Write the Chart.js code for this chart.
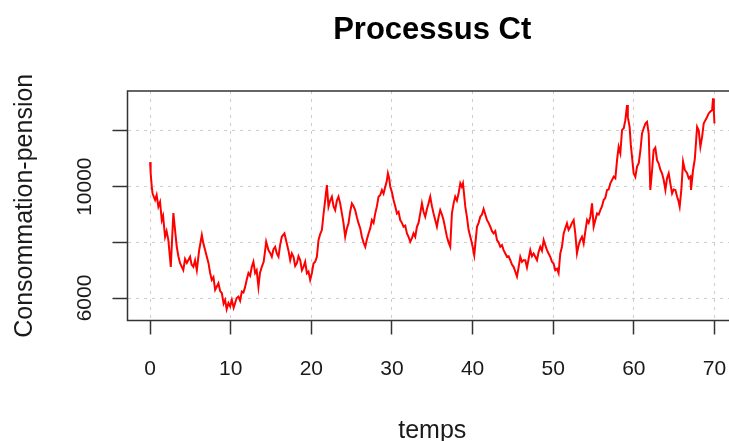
<!DOCTYPE html>
<html lang="fr">
<head>
    <meta charset="UTF-8">
    <title>Processus Ct</title>
    <script src="https://cdn.jsdelivr.net/npm/chart.js@4.4.3/dist/chart.umd.min.js"></script>
    <style>
        html, body { margin: 0; padding: 0; background: #fff; overflow: hidden; }
        /* the plot frame runs a little past the right edge of the window */
        #wrap { width: 729px; height: 441px; overflow: hidden; }
        canvas { display: block; }
    </style>
</head>
<body>
<div id="wrap"><canvas id="ct-chart" width="737" height="441"></canvas></div>
<script>
// time axis (temps)
const temps = [
    0, 0.07, 0.21, 0.31, 0.62, 0.81, 1.03, 1.24, 1.45, 1.61,
    1.86, 2.05, 2.27, 2.57, 2.73, 2.89, 3.10, 3.31, 3.51, 3.71,
    4.12, 4.34, 4.56, 4.96, 5.15, 5.37, 5.58, 5.80, 6.08, 6.42,
    6.58, 6.83, 7.24, 7.45, 7.65, 7.86, 8.07, 8.48, 8.69, 8.90,
    9.12, 9.31, 9.50, 9.72, 9.93, 10.14, 10.37, 10.55, 10.74, 10.96,
    11.17, 11.38, 11.58, 11.79, 11.98, 12.20, 12.41, 12.62, 12.82, 13.03,
    13.22, 13.44, 13.63, 13.86, 14.09, 14.27, 14.40, 14.68, 14.89, 15.10,
    15.30, 15.51, 15.72, 15.93, 16.13, 16.34, 16.67, 16.96, 17.17, 17.38,
    17.58, 17.79, 18.00, 18.21, 18.41, 18.62, 18.83, 19.03, 19.24, 19.45,
    19.65, 19.86, 20.07, 20.27, 20.48, 20.69, 20.89, 21.10, 21.31, 21.51,
    21.72, 21.93, 22.13, 22.34, 22.55, 22.75, 22.96, 23.17, 23.37, 23.58,
    23.79, 23.99, 24.20, 24.41, 24.61, 24.82, 25.03, 25.24, 25.44, 25.65,
    25.86, 26.07, 26.27, 26.47, 26.69, 26.89, 27.10, 27.31, 27.51, 27.72,
    27.93, 28.14, 28.34, 28.55, 28.76, 28.96, 29.17, 29.36, 29.50, 29.66,
    29.79, 30.00, 30.20, 30.41, 30.62, 30.82, 31.03, 31.24, 31.44, 31.65,
    31.86, 32.06, 32.27, 32.48, 32.68, 32.89, 33.10, 33.30, 33.51, 33.72,
    33.92, 34.13, 34.34, 34.54, 34.75, 34.96, 35.16, 35.37, 35.58, 35.78,
    35.99, 36.20, 36.40, 36.61, 36.82, 37.02, 37.23, 37.44, 37.65, 37.85,
    38.06, 38.27, 38.48, 38.66, 38.81, 39.10, 39.31, 39.51, 39.72, 39.93,
    40.21, 40.55, 40.75, 40.96, 41.17, 41.37, 41.58, 41.79, 41.99, 42.20,
    42.41, 42.61, 42.82, 43.03, 43.23, 43.44, 43.65, 43.85, 44.06, 44.27,
    44.47, 44.68, 44.89, 45.09, 45.30, 45.51, 45.71, 45.92, 46.13, 46.33,
    46.54, 46.75, 46.95, 47.16, 47.37, 47.57, 47.78, 47.99, 48.19, 48.40,
    48.61, 48.82, 49.02, 49.23, 49.43, 49.64, 49.85, 50.05, 50.26, 50.47,
    50.67, 50.88, 51.09, 51.30, 51.50, 51.71, 51.91, 52.13, 52.33, 52.54,
    52.75, 52.95, 53.16, 53.36, 53.57, 53.78, 53.99, 54.20, 54.40, 54.61,
    54.82, 55.02, 55.23, 55.44, 55.65, 55.85, 56.06, 56.26, 56.47, 56.68,
    56.88, 57.09, 57.30, 57.50, 57.71, 57.92, 58.12, 58.33, 58.54, 58.75,
    58.95, 59.16, 59.26, 59.48, 59.63, 59.78, 59.98, 60.19, 60.40, 60.61,
    60.82, 61.02, 61.23, 61.44, 61.64, 61.85, 62.05, 62.24, 62.46, 62.67,
    62.88, 63.08, 63.30, 63.50, 63.71, 63.92, 64.12, 64.33, 64.54, 64.75,
    64.95, 65.16, 65.37, 65.53, 65.69, 65.90, 66.11, 66.33, 66.61, 66.81,
    67.02, 67.10, 67.35, 67.57, 67.85, 68.05, 68.26, 68.47, 68.67, 68.88,
    69.09, 69.29, 69.50, 69.71, 69.83, 69.93, 70.00
];

// Ct values, same order as temps
const consommationPension = [
    10880, 10500, 10000, 9750, 9520, 9700, 9280, 9450, 8800, 8950,
    8200, 8400, 8080, 7120, 8100, 9050, 8440, 7840, 7500, 7260,
    7000, 7400, 7260, 7480, 7200, 7120, 7350, 7000, 7700, 8260,
    8000, 7720, 7260, 6900, 6650, 6750, 6290, 6530, 6250, 6180,
    5800, 5930, 5600, 5820, 5700, 5930, 5650, 5820, 6000, 6050,
    5900, 6230, 6200, 6400, 6650, 6900, 6800, 7120, 7300, 6900,
    7000, 6400, 6900, 7120, 7300, 7700, 8020, 7720, 7620, 7480,
    7750, 7840, 7600, 7480, 7900, 8200, 8320, 7960, 7700, 7360,
    7600, 7480, 7150, 7250, 7500, 7360, 7000, 7120, 7300, 6890,
    6950, 6650, 6900, 7240, 7300, 7480, 8080, 8300, 8440, 9000,
    9520, 10060, 9280, 9500, 9640, 9300, 9160, 9500, 9640, 9400,
    9040, 8700, 8200, 8500, 8680, 9100, 9400, 9300, 9160, 8900,
    8680, 8500, 8200, 8000, 7840, 8100, 8320, 8500, 8800, 8700,
    9040, 9300, 9640, 9700, 9880, 9750, 10000, 10200, 10480, 10300,
    10000, 9800, 9520, 9300, 9040, 9100, 8800, 8700, 8560, 8600,
    8320, 8200, 8020, 8150, 8320, 8200, 8560, 8700, 9040, 9400,
    9100, 8920, 9200, 9400, 9640, 9300, 9040, 8800, 8560, 8900,
    9160, 9000, 8800, 8500, 8200, 8000, 7840, 9040, 9400, 9640,
    9500, 9760, 10120, 10000, 10120, 9280, 8900, 8440, 8200, 7960,
    7540, 8560, 8700, 8920, 9000, 9200, 9000, 8800, 8700, 8560,
    8400, 8320, 8400, 8080, 8000, 7840, 7900, 7720, 7600, 7480,
    7500, 7360, 7200, 7120, 6950, 6770, 7100, 7480, 7300, 7360,
    7360, 7100, 7400, 7720, 7500, 7600, 7480, 7360, 7650, 7840,
    7700, 8080, 7900, 7720, 7600, 7480, 7300, 7240, 7000, 7050,
    6890, 7600, 7840, 8320, 8500, 8680, 8450, 8560, 8700, 8800,
    8300, 7600, 7900, 8080, 8200, 7960, 8400, 8800, 8700, 8920,
    9400, 8560, 8800, 9040, 9000, 9160, 9300, 9520, 9600, 9880,
    9900, 10120, 10240, 10360, 10300, 10950, 11430, 11200, 12030, 12100,
    12390, 12930, 12500, 12150, 11500, 11070, 10480, 10350, 10720, 10840,
    11300, 11910, 12100, 12270, 12330, 11900, 9880, 10500, 11310, 11400,
    10950, 10840, 10600, 10480, 10240, 9880, 10300, 10480, 10100, 9760,
    9900, 9880, 9640, 9500, 9280, 9900, 10900, 10600, 10480, 10300,
    10360, 9880, 10600, 11000, 12150, 12030, 11430, 11790, 12270, 12390,
    12500, 12630, 12700, 12750, 13170, 12700, 12270
];

// axis ticks; only some of the y ticks carry a label
const xTicks = [0, 10, 20, 30, 40, 50, 60, 70];
const yTicks = [6000, 8000, 10000, 12000];
const yLabelled = [6000, 10000];

const FONT = "'Liberation Sans', Arial, Helvetica, sans-serif";
const INK = '#1a1a1a';
const FRAME = '#333333';

// box drawn round the plotting region
const framePlugin = {
    id: 'frame',
    afterDatasetsDraw(chart) {
        const { ctx, chartArea: a } = chart;
        ctx.save();
        ctx.strokeStyle = FRAME;
        ctx.lineWidth = 1.5;
        ctx.strokeRect(a.left, a.top, a.right - a.left, a.bottom - a.top);
        ctx.restore();
    }
};

const gridStyle = (tickLength) => ({
    color: '#cdcdcd',
    lineWidth: 1,
    tickLength: tickLength,
    tickColor: FRAME,
    tickWidth: 1.5,
    tickBorderDash: []
});

// fixed axis sizes, and no extra room reserved for overhanging tick labels
const fixWidth = w => s => { s.width = w; s.paddingTop = 0; s.paddingBottom = 0; };
const fixHeight = h => s => { s.height = h; s.paddingLeft = 0; s.paddingRight = 0; };

new Chart(document.getElementById('ct-chart'), {
    type: 'line',
    data: {
        datasets: [{
            data: temps.map((t, i) => ({ x: t, y: consommationPension[i] })),
            borderColor: '#ff0000',
            borderWidth: 2,
            pointRadius: 0,
            tension: 0,
            fill: false
        }]
    },
    options: {
        responsive: false,
        animation: false,
        devicePixelRatio: 1,
        layout: { padding: 0 },
        plugins: {
            legend: { display: false },
            tooltip: { enabled: false },
            title: {
                display: true,
                text: 'Processus Ct',
                fullSize: false,
                color: '#000',
                font: { family: FONT, size: 31, weight: 'bold' },
                padding: { top: 12, bottom: 41.8 }
            }
        },
        scales: {
            x: {
                type: 'linear',
                min: -2.8,
                max: 72.8,
                afterBuildTicks: s => { s.ticks = xTicks.map(v => ({ value: v })); },
                afterFit: fixHeight(120.5),
                grid: gridStyle(14),
                border: { display: false, dash: [3, 5] },
                ticks: {
                    autoSkip: false,
                    maxRotation: 0,
                    padding: 22,
                    color: INK,
                    font: { family: FONT, size: 21 },
                    callback: v => String(v)
                },
                title: {
                    display: true,
                    text: 'temps',
                    color: INK,
                    font: { family: FONT, size: 25 },
                    padding: { top: 0, bottom: -5 }
                }
            },
            y: {
                type: 'linear',
                min: 5192,
                max: 13437,
                afterBuildTicks: s => { s.ticks = yTicks.map(v => ({ value: v })); },
                afterFit: fixWidth(127.5),
                grid: gridStyle(15),
                border: { display: false, dash: [3, 5] },
                ticks: {
                    autoSkip: false,
                    minRotation: 90,
                    maxRotation: 90,
                    crossAlign: 'center',
                    padding: -2,
                    color: INK,
                    font: { family: FONT, size: 21 },
                    callback: v => yLabelled.includes(v) ? String(v) : ''
                },
                title: {
                    display: true,
                    text: 'Consommation-pension',
                    color: INK,
                    font: { family: FONT, size: 25 },
                    padding: { top: 10, bottom: 0 }
                }
            }
        }
    },
    plugins: [framePlugin]
});
</script>
</body>
</html>
